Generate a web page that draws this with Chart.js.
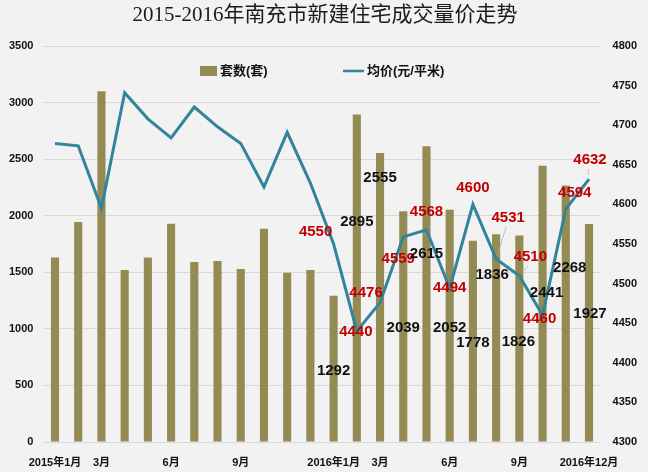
<!DOCTYPE html>
<html><head><meta charset="utf-8">
<script src="https://cdn.jsdelivr.net/npm/chart.js@4"></script>
<style>html,body{margin:0;padding:0;background:#f2f2f2;overflow:hidden;}</style>
</head><body>
<canvas id="c" width="648" height="472"></canvas>
<script>
// ---- data ----
const categories = ['2015-01','2015-02','2015-03','2015-04','2015-05','2015-06','2015-07','2015-08','2015-09','2015-10','2015-11','2015-12',
  '2016-01','2016-02','2016-03','2016-04','2016-05','2016-06','2016-07','2016-08','2016-09','2016-10','2016-11','2016-12'];
const tickLabels = ['2015年1月','','3月','','','6月','','','9月','','','','2016年1月','','3月','','','6月','','','9月','','','2016年12月'];
const units = [1630,1945,3100,1520,1630,1930,1590,1600,1530,1885,1495,1520,1292,2895,2555,2039,2615,2052,1778,1836,1826,2441,2268,1927];
const prices = [4677,4674,4595,4741,4708,4684,4723,4698,4677,4622,4691,4627,4550,4440,4476,4559,4568,4494,4600,4531,4510,4460,4594,4632];
const unitsName = '套数(套)';
const pricesName = '均价(元/平米)';
const titleText = '2015-2016年南充市新建住宅成交量价走势';
const labelFrom = 12;

// ---- label placement (offsets from mark, px) ----
const unitLabelOffsets = [[0,75],[0,107],[0,25],[0,117],[0,108],[0,118],[0,102],[-4,41],[-1,106],[4,127],[4,82],[1,90]];
const priceLabelOffsets = [[-18,-12],[-1,1],[-14,-10],[-5,22],[0,-18],[0,0],[0,-17],[12,-41],[11,-19],[-3,4],[9,-16],[1,-19]];
const priceLeader = [false,false,false,false,false,false,false,true,true,false,false,true];

const OLIVE = '#948A54', TEAL = '#31849B', RED = '#C00000';

const decor = {
  id: 'decor',
  beforeDraw(chart) {
    const ctx = chart.ctx;
    ctx.save();
    ctx.fillStyle = '#f2f2f2';
    ctx.fillRect(0, 0, chart.width, chart.height);
    ctx.restore();
  },
  afterDatasetsDraw(chart) {
    const ctx = chart.ctx;
    ctx.save();
    // title
    ctx.fillStyle = '#1a1a1a';
    ctx.font = "21px 'Liberation Serif','Noto Sans CJK SC'";
    ctx.textAlign = 'center';
    ctx.textBaseline = 'middle';
    ctx.fillText(titleText, 325, 15);
    // legend
    ctx.fillStyle = OLIVE;
    ctx.fillRect(200, 66, 17, 10);
    ctx.strokeStyle = TEAL; ctx.lineWidth = 2.5;
    ctx.beginPath(); ctx.moveTo(343, 71); ctx.lineTo(364, 71); ctx.stroke();
    ctx.fillStyle = '#111';
    ctx.font = "bold 13px 'Liberation Sans','Noto Sans CJK SC'";
    ctx.textAlign = 'left';
    ctx.fillText(unitsName, 220, 71);
    ctx.fillText(pricesName, 367, 71);
    // data labels
    const barMeta = chart.getDatasetMeta(0).data;
    const lineMeta = chart.getDatasetMeta(1).data;
    ctx.font = "bold 15px 'Liberation Sans','Noto Sans'";
    ctx.textAlign = 'center';
    for (let i = labelFrom; i < units.length; i++) {
      const k = i - labelFrom;
      const b = barMeta[i];
      ctx.fillStyle = '#111';
      ctx.fillText(String(units[i]), b.x + unitLabelOffsets[k][0], b.y + unitLabelOffsets[k][1]);
      const p = lineMeta[i];
      const lx = p.x + priceLabelOffsets[k][0], ly = p.y + priceLabelOffsets[k][1];
      if (priceLeader[k]) {
        ctx.strokeStyle = '#b0b0b0'; ctx.lineWidth = 0.8;
        const sx = lx - 2, sy = ly + 9;
        const dx = p.x - sx, dy = p.y - sy, len = Math.hypot(dx, dy);
        ctx.beginPath(); ctx.moveTo(sx, sy);
        ctx.lineTo(p.x - dx / len * 4, p.y - dy / len * 4); ctx.stroke();
      }
      ctx.fillStyle = RED;
      ctx.fillText(String(prices[i]), lx, ly);
    }
    ctx.restore();
  }
};

const tickFont = { family: "'Liberation Sans','Noto Sans CJK SC'", size: 11, weight: 'bold' };
const plain = v => String(v);

new Chart(document.getElementById('c'), {
  type: 'bar',
  data: {
    labels: tickLabels,
    datasets: [
      { type: 'bar', label: unitsName, data: units, backgroundColor: OLIVE, yAxisID: 'y',
        barPercentage: 0.35, categoryPercentage: 1, order: 2 },
      { type: 'line', label: pricesName, data: prices, borderColor: TEAL, borderWidth: 3,
        pointRadius: 0, tension: 0, fill: false, yAxisID: 'y1', order: 1 }
    ]
  },
  options: {
    responsive: false,
    animation: false,
    devicePixelRatio: 1,
    layout: { padding: { top: 46, left: 0, right: 0, bottom: 0 } },
    plugins: { legend: { display: false }, title: { display: false }, tooltip: { enabled: false } },
    scales: {
      x: {
        grid: { display: false }, border: { display: false },
        ticks: { autoSkip: false, maxRotation: 0, minRotation: 0, color: '#111', font: tickFont, padding: 6 },
        afterFit(s) { s.height = 30; }
      },
      y: {
        position: 'left', min: 0, max: 3500,
        grid: { color: '#d9d9d9', drawTicks: false }, border: { display: false },
        ticks: { stepSize: 500, color: '#111', font: tickFont, padding: 10, callback: plain },
        afterFit(s) { s.width = 43.4; }
      },
      y1: {
        position: 'right', min: 4300, max: 4800,
        grid: { display: false, drawTicks: false }, border: { display: false },
        ticks: { stepSize: 50, color: '#111', font: tickFont, padding: 12, callback: plain },
        afterFit(s) { s.width = 47.4; }
      }
    }
  },
  plugins: [decor]
});
</script>
</body></html>
